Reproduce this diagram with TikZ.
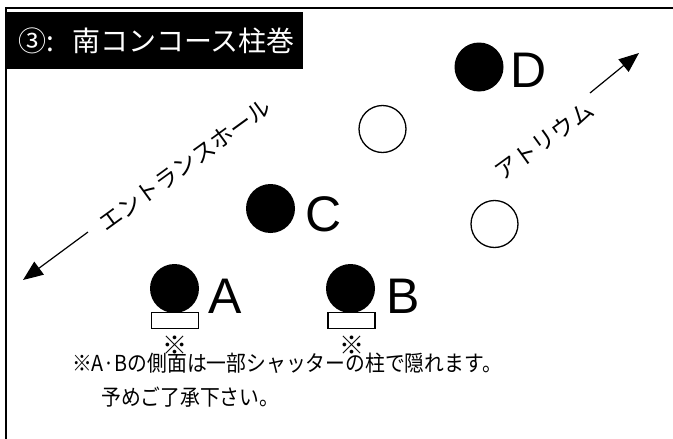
\documentclass[tikz,border=0pt]{standalone}
\usepackage{fontspec}
\setmainfont{Noto Sans CJK JP}
\newfontfamily\latinfont{Liberation Sans}
\newfontfamily\narrowjp[FakeStretch=0.9]{Noto Sans CJK JP}
\usetikzlibrary{arrows.meta}
\tikzset{
  filledcol/.style={circle, fill=black, minimum size=49pt, inner sep=0pt},
  opencol/.style={circle, draw=black, line width=1.3pt, fill=white, minimum size=47pt, inner sep=0pt},
  bigletter/.style={anchor=base west, inner sep=0pt, font=\latinfont\fontsize{50}{50}\selectfont},
  cover/.style={draw=black, line width=1.4pt, fill=white, minimum width=47pt, minimum height=16pt, inner sep=0pt},
  notemark/.style={inner sep=0pt, font=\fontsize{25}{25}\selectfont},
  dirlabel/.style={inner sep=0pt, font=\fontsize{23}{23}\selectfont},
  dirarrow/.style={line width=1.2pt, -{Triangle[length=20pt,width=16pt]}},
  titletxt/.style={anchor=west, inner sep=0pt, text=white, font=\fontsize{28}{28}\selectfont},
  notetxt/.style={anchor=west, inner sep=0pt, font=\narrowjp\fontsize{22}{22}\selectfont},
}
\begin{document}
\begin{tikzpicture}[x=1pt,y=-1pt]
\useasboundingbox (0,0) rectangle (673,439);
% frame
\draw[line width=2pt] (6,439) -- (6,8) -- (673,8);
% title
\node[fill=black, minimum width=297pt, minimum height=57pt, inner sep=0pt, anchor=north west] (title) at (6,12) {};
\node[titletxt] (titlenum) at (18,41) {③:};
\node[titletxt] (titletext) at (72,41) {南コンコース柱巻};
% columns
\node[filledcol] (D) at (479,67) {};
\node[bigletter] (Dl) at (510,87) {D};
\node[opencol] (O1) at (382.5,129) {};
\node[filledcol] (C) at (270.5,208.5) {};
\node[bigletter] (Cl) at (305,231) {C};
\node[opencol] (O2) at (494.5,224) {};
\node[filledcol] (A) at (174.5,288.5) {};
\node[bigletter] (Al) at (208,313) {A};
\node[cover] (Ac) at (175,320.5) {};
\node[notemark] (Am) at (175,345) {※};
\node[filledcol] (B) at (350.5,288.5) {};
\node[bigletter] (Bl) at (386,313) {B};
\node[cover] (Bc) at (351.5,320.5) {};
\node[notemark] (Bm) at (351.5,345) {※};
% directions
\coordinate (e1) at (88,232);
\coordinate (e2) at (23,280);
\draw[dirarrow] (e1) -- (e2);
\node[dirlabel, rotate=36] (ent) at (185,165) {エントランスホール};
\coordinate (a1) at (590,93);
\coordinate (a2) at (639,53);
\draw[dirarrow] (a1) -- (a2);
\node[dirlabel, rotate=36] (atr) at (544,141) {アトリウム};
% note
\node[notetxt] (note1) at (72,363) {※A·Bの側面は一部シャッターの柱で隠れます。};
\node[notetxt] (note2) at (101,397) {予めご了承下さい。};
\end{tikzpicture}
\end{document}
